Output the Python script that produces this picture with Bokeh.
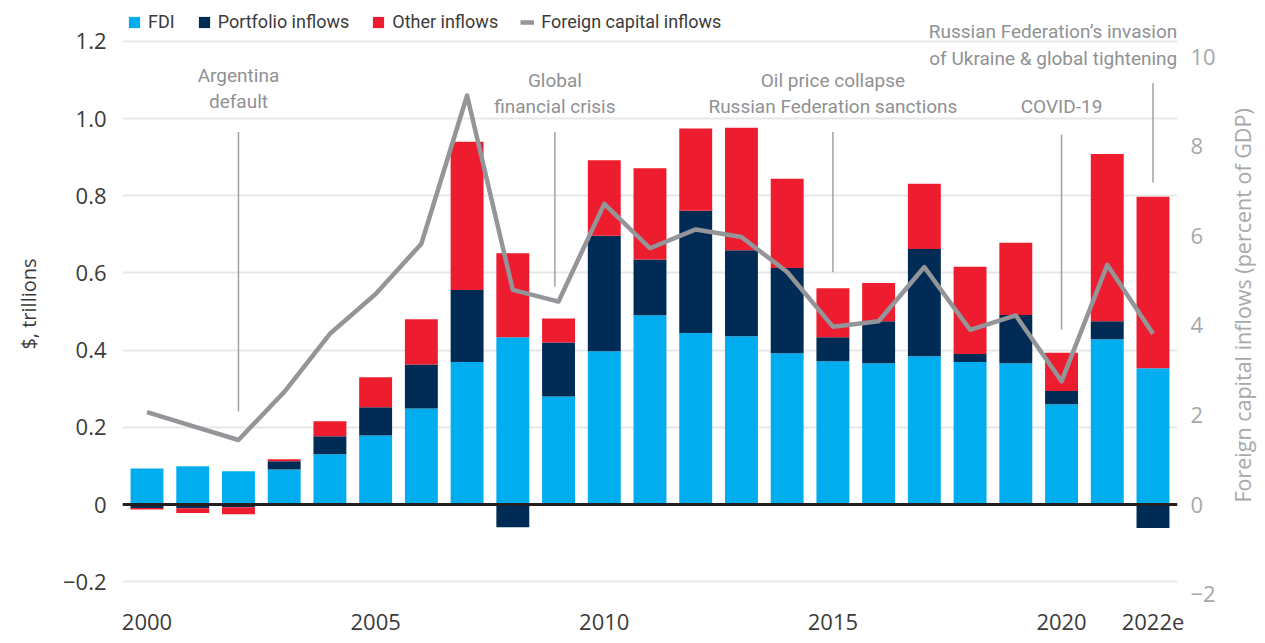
import math
import numpy as np
from bokeh.plotting import figure
from bokeh.layouts import row
from bokeh.models import Range1d, LinearAxis, FixedTicker, Span, Legend, LegendItem
from bokeh.core.properties import value
from bokeh.embed import file_html
from bokeh.resources import INLINE

# ---------------- data ----------------
years = list(range(2000, 2023))
fdi = [0.093, 0.099, 0.086, 0.091, 0.130, 0.179, 0.249, 0.369, 0.433, 0.280, 0.397, 0.490,
       0.444, 0.436, 0.392, 0.371, 0.366, 0.384, 0.369, 0.366, 0.260, 0.428, 0.353]
portfolio = [-0.009, -0.010, -0.007, 0.021, 0.047, 0.073, 0.114, 0.187, -0.059, 0.140, 0.299, 0.145,
             0.317, 0.223, 0.221, 0.062, 0.109, 0.278, 0.021, 0.125, 0.034, 0.047, -0.061]
other = [-0.004, -0.012, -0.018, 0.005, 0.039, 0.078, 0.117, 0.384, 0.218, 0.062, 0.196, 0.236,
         0.213, 0.317, 0.231, 0.127, 0.099, 0.169, 0.226, 0.187, 0.099, 0.433, 0.444]
capital_inflows_pct = [2.06, 1.75, 1.44, 2.51, 3.81, 4.70, 5.82, 9.13, 4.79, 4.53, 6.71, 5.72,
                       6.14, 5.97, 5.19, 3.97, 4.09, 5.30, 3.90, 4.22, 2.75, 5.35, 3.81]

series_names = ["FDI", "Portfolio inflows", "Other inflows"]
line_name = "Foreign capital inflows"
left_axis_title = "$, trillions"
right_axis_title = "Foreign capital inflows (percent of GDP)"

left_ticks = [-0.2, 0.0, 0.2, 0.4, 0.6, 0.8, 1.0, 1.2]
left_tick_labels = ["\u22120.2", "0", "0.2", "0.4", "0.6", "0.8", "1.0", "1.2"]
right_ticks = [-2, 0, 2, 4, 6, 8, 10]
right_tick_labels = ["\u22122", "0", "2", "4", "6", "8", "10"]
x_tick_years = [2000, 2005, 2010, 2015, 2020, 2022]
x_tick_labels = ["2000", "2005", "2010", "2015", "2020", "2022e"]

# event annotations
event_years = [2002, 2008.92, 2015, 2020, 2022]
event_leader_top = [0.965, 0.965, 0.965, 0.958, 1.092]
event_leader_bottom = [0.241, 0.565, 0.602, 0.453, 0.834]
center_notes = ["Argentina", "default", "Global", "financial crisis",
                "Oil price collapse", "Russian Federation sanctions", "COVID-19"]
center_notes_x = [2002, 2002, 2008.92, 2008.92, 2015, 2015, 2020]
center_notes_y = [1.111, 1.044, 1.098, 1.031, 1.098, 1.031, 1.031]
right_notes = ["Russian Federation\u2019s invasion", "of Ukraine & global tightening"]
right_notes_x = [2022.53, 2022.53]
right_notes_y = [1.225, 1.155]

# ---------------- style ----------------
colors = ["#00aeef", "#002b54", "#ed1c2e"]
line_color = "#939598"
dark_text = "#3b3b3b"
grey_text = "#a7a9ac"
note_color = "#8f9194"

W_MAIN, W_SIDE, H = 1228, 37, 643
p = figure(width=W_MAIN, height=H,
           x_range=Range1d(1999.464, 2022.536),
           y_range=Range1d(-0.2668, 1.3057),
           toolbar_location=None, output_backend="svg",
           min_border_left=122, min_border_right=51,
           min_border_top=0, min_border_bottom=36)
p.outline_line_color = None
p.background_fill_color = "white"
p.border_fill_color = "white"

p.extra_y_ranges = {"pct": Range1d(-2.299, 11.25)}

# grid
p.xgrid.visible = False
p.ygrid.ticker = FixedTicker(ticks=left_ticks)
p.ygrid.grid_line_color = "#e6e7e8"
p.ygrid.grid_line_width = 2

# stacked bars
n = len(years)
pos_base = np.zeros(n)
neg_base = np.zeros(n)
bar_renderers = []
for vals, col in zip([fdi, portfolio, other], colors):
    v = np.array(vals, dtype=float)
    bottom = np.where(v >= 0, pos_base, neg_base)
    top = bottom + v
    pos_base = np.where(v >= 0, top, pos_base)
    neg_base = np.where(v < 0, top, neg_base)
    r = p.vbar(x=years, bottom=bottom, top=top, width=0.72,
               fill_color=col, line_color=None)
    bar_renderers.append(r)

# zero line
p.add_layout(Span(location=0, dimension="width", line_color="#231f20", line_width=3))

# event leaders
p.segment(x0=event_years, y0=event_leader_bottom, x1=event_years, y1=event_leader_top,
          line_color="#a0a2a5", line_width=1.5)

# line on right axis
lr = p.line(years, capital_inflows_pct, y_range_name="pct", line_color=line_color,
            line_width=4.5, line_join="round")

# event texts
p.text(x=center_notes_x, y=center_notes_y, text=center_notes,
       text_font=value("Roboto"), text_font_size="19px", text_color=note_color,
       text_align="center", text_baseline="middle")
p.text(x=right_notes_x, y=right_notes_y, text=right_notes,
       text_font=value("Roboto"), text_font_size="19px", text_color=note_color,
       text_align="right", text_baseline="middle")

# x axis
xa = p.xaxis[0]
xa.ticker = FixedTicker(ticks=x_tick_years)
xa.major_label_overrides = {t: s for t, s in zip(x_tick_years, x_tick_labels)}
xa.axis_line_color = None
xa.major_tick_line_color = None
xa.minor_tick_line_color = None
xa.major_tick_out = 0
xa.major_tick_in = 0
xa.major_label_standoff = 6
xa.major_label_text_font = "Open Sans"
xa.major_label_text_font_size = "22px"
xa.major_label_text_color = dark_text

# left axis
la = p.yaxis[0]
la.ticker = FixedTicker(ticks=left_ticks)
la.major_label_overrides = {t: s for t, s in zip(left_ticks, left_tick_labels)}
la.axis_line_color = None
la.major_tick_line_color = None
la.minor_tick_line_color = None
la.major_tick_out = 0
la.major_tick_in = 0
la.major_label_standoff = 16
la.major_label_text_font = "Open Sans"
la.major_label_text_font_size = "22px"
la.major_label_text_color = dark_text
la.axis_label = left_axis_title
la.axis_label_text_font = "Open Sans"
la.axis_label_text_font_size = "20px"
la.axis_label_text_font_style = "normal"
la.axis_label_text_color = dark_text
la.axis_label_standoff = 18

# right axis (ticks); its title is drawn in a narrow strip so it reads bottom-to-top
ra = LinearAxis(y_range_name="pct")
ra.ticker = FixedTicker(ticks=right_ticks)
ra.major_label_overrides = {t: s for t, s in zip(right_ticks, right_tick_labels)}
ra.axis_line_color = None
ra.major_tick_line_color = None
ra.minor_tick_line_color = None
ra.major_tick_out = 0
ra.major_tick_in = 0
ra.major_label_standoff = 13
ra.major_label_text_font = "Open Sans"
ra.major_label_text_font_size = "22px"
ra.major_label_text_color = grey_text
p.add_layout(ra, "right")

# legend
items = [LegendItem(label=nm, renderers=[r]) for nm, r in zip(series_names, bar_renderers)]
items.append(LegendItem(label=line_name, renderers=[lr]))
legend = Legend(items=items, orientation="horizontal", location=(5, 575),
                margin=0, padding=0, spacing=22, label_standoff=7,
                glyph_width=14, glyph_height=14, label_height=18,
                label_text_font="Roboto", label_text_font_size="18px",
                label_text_color=dark_text,
                border_line_color=None, background_fill_alpha=0)
p.add_layout(legend)

# right-hand title strip
side = figure(width=W_SIDE, height=H, x_range=Range1d(0, W_SIDE), y_range=Range1d(0, H),
              x_axis_location=None, y_axis_location=None,
              toolbar_location=None, output_backend="svg",
              min_border_left=0, min_border_right=0, min_border_top=0, min_border_bottom=0)
side.outline_line_color = None
side.xgrid.visible = False
side.ygrid.visible = False
side.text(x=[14], y=[320], text=[right_axis_title], angle=math.pi / 2,
          text_font=value("Open Sans"), text_font_size="21.5px", text_color=grey_text,
          text_align="center", text_baseline="middle")

layout = row(p, side, spacing=0)
open("out.html", "w").write(file_html(layout, INLINE))
